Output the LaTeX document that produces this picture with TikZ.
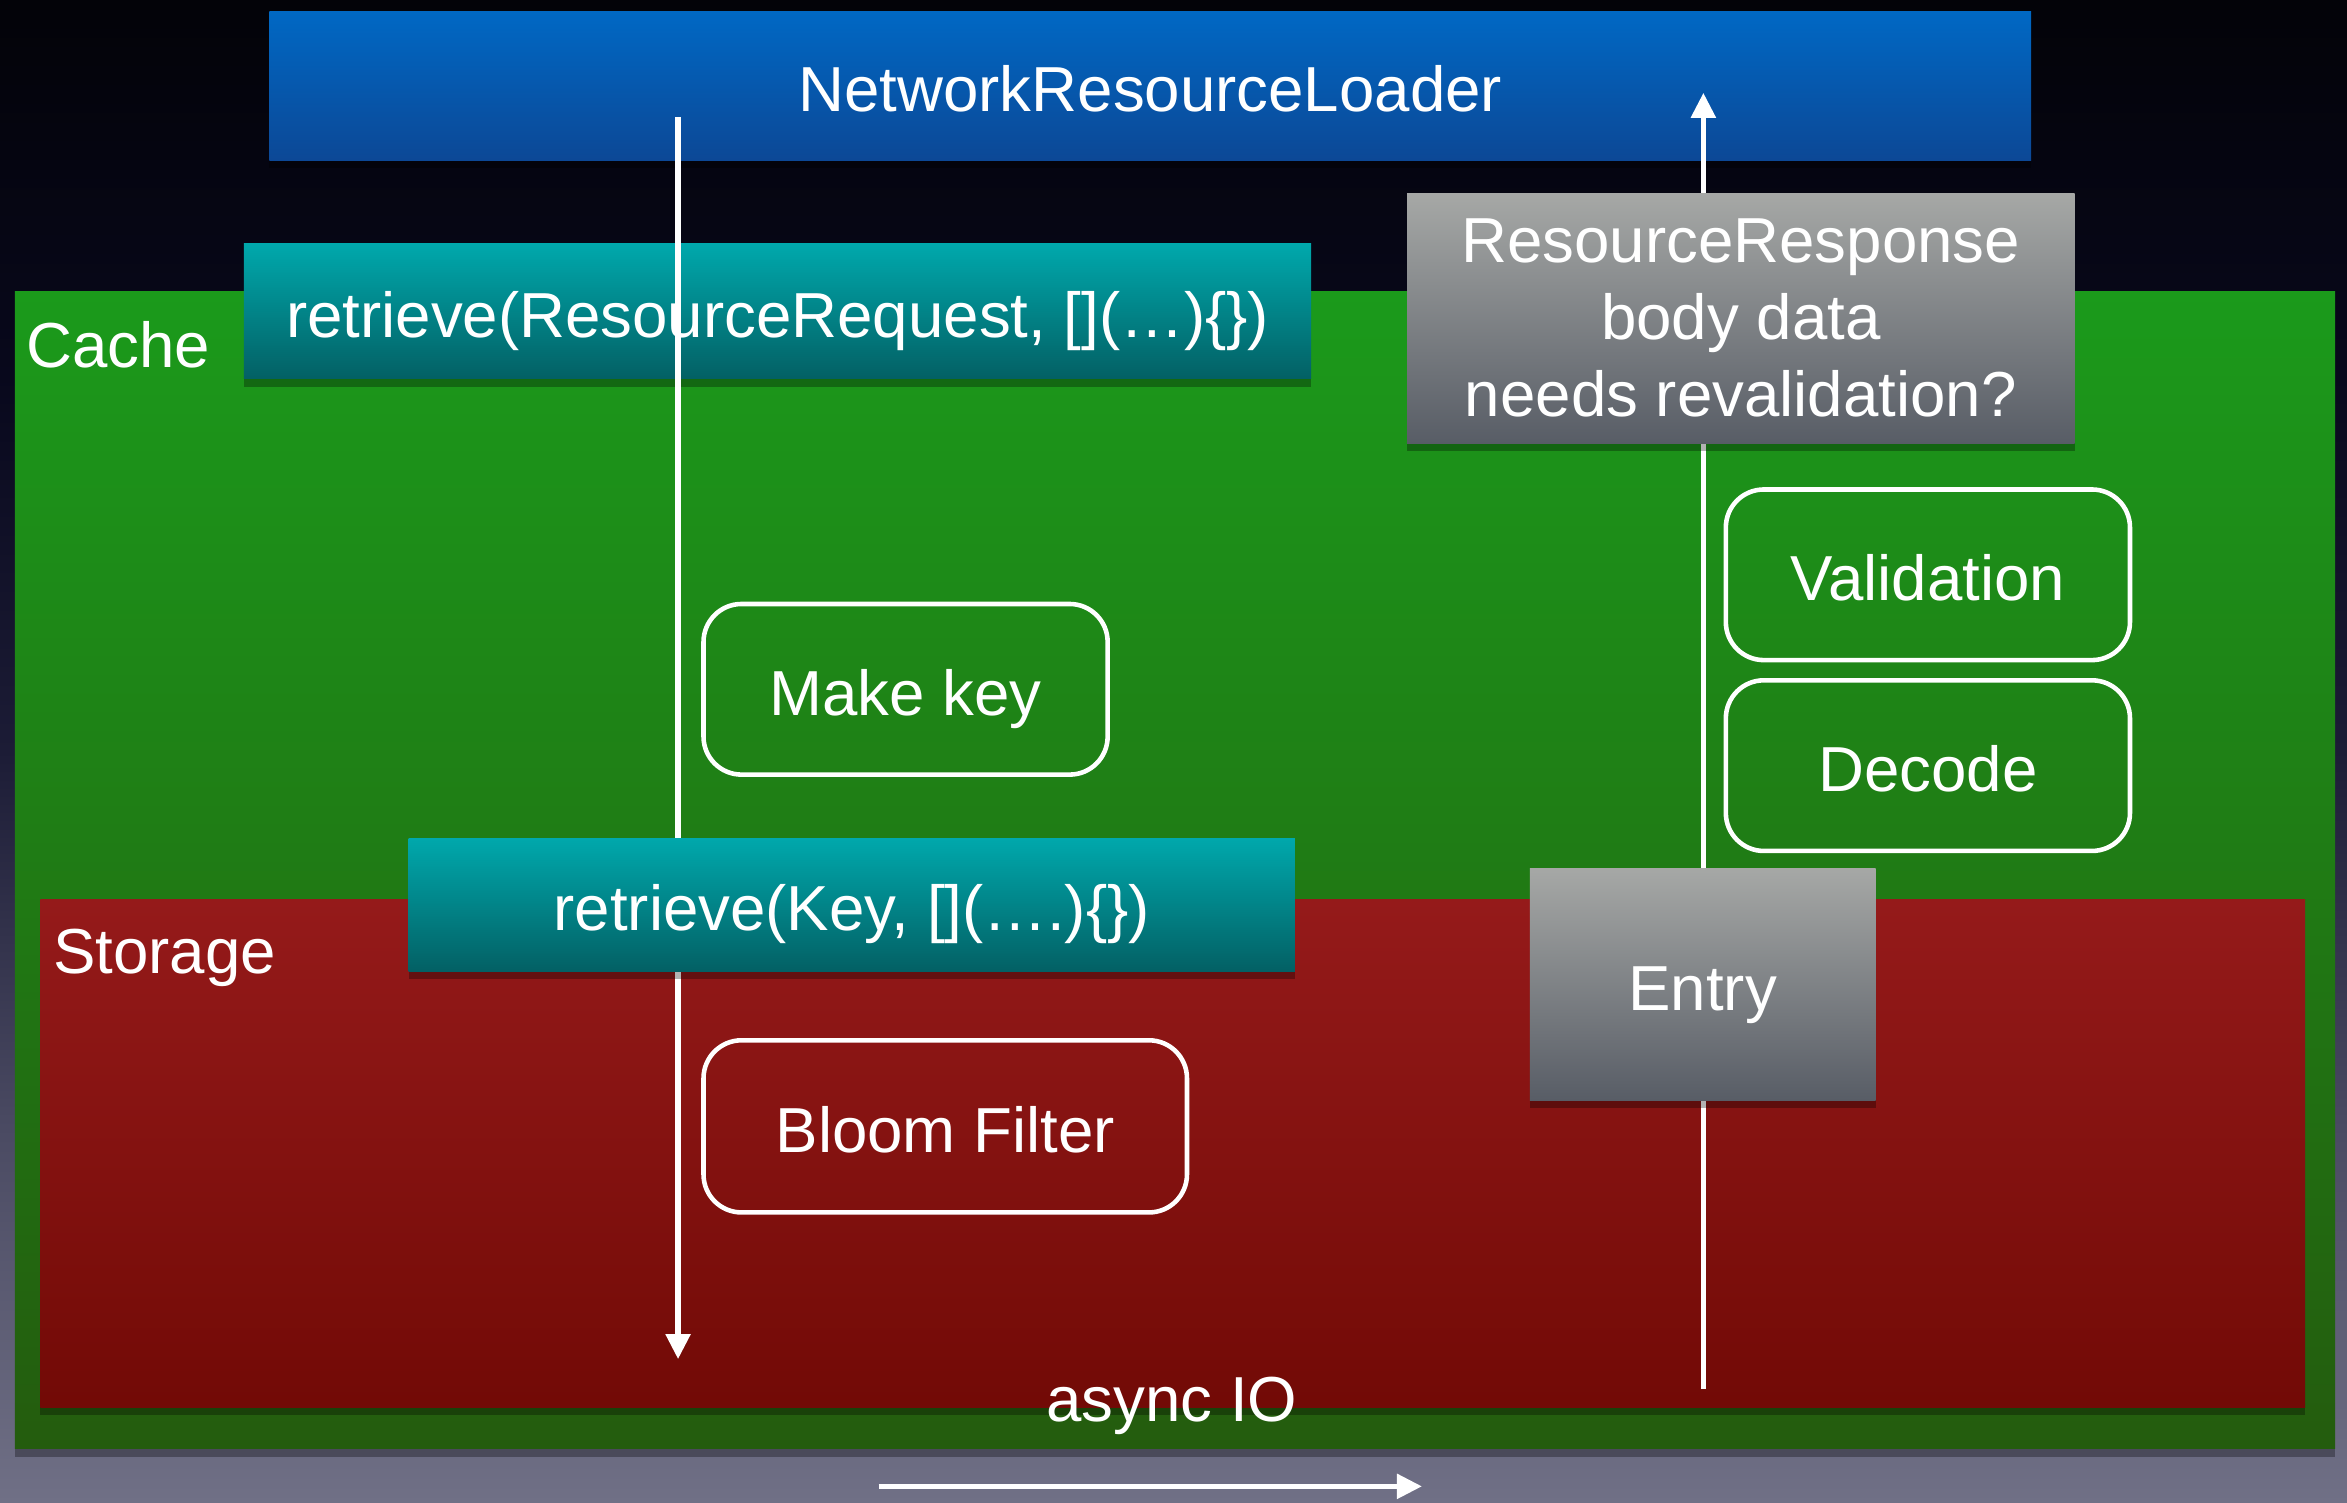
\documentclass[tikz,border=0pt]{standalone}
\usepackage{fontspec}
\setmainfont{Liberation Sans}
\usetikzlibrary{arrows.meta,shadows}

\definecolor{bgbottom}{HTML}{707086}
\definecolor{bglow}{HTML}{4A4A62}
\definecolor{bgmid}{HTML}{1C1C36}
\definecolor{bghigh}{HTML}{08081C}
\definecolor{bgtop}{HTML}{030308}
\definecolor{cachetop}{HTML}{1B9A1B}
\definecolor{cachebot}{HTML}{245C0E}
\definecolor{storetop}{HTML}{951A1A}
\definecolor{storebot}{HTML}{720A06}
\definecolor{loadertop}{HTML}{0068C4}
\definecolor{loaderbot}{HTML}{0C4896}
\definecolor{tealtop}{HTML}{00A8AC}
\definecolor{tealbot}{HTML}{036064}
\definecolor{greytop}{HTML}{A6A8A6}
\definecolor{greybot}{HTML}{585D66}

\pgfdeclareverticalshading{slidebg}{100bp}{color(0bp)=(bgbottom); color(25bp)=(bgbottom);
  color(37.5bp)=(bglow); color(50bp)=(bgmid); color(62.5bp)=(bghigh);
  color(75bp)=(bgtop); color(100bp)=(bgtop)}

\tikzset{
  boxw/.style={minimum width=#1*0.014968cm},
  boxh/.style={minimum height=#1*0.014968cm},
  oneline/.style={text height=18.5pt, text depth=3.8pt},
  layer/.style={inner sep=0pt, align=center, oneline,
    drop shadow={shade=false, fill=black, opacity=0.3, shadow xshift=0pt, shadow yshift=-0.8mm}},
  callbar/.style={layer, top color=tealtop, bottom color=tealbot},
  greybox/.style={layer, top color=greytop, bottom color=greybot},
  stepbox/.style={draw=white, line width=1.3pt, rounded corners=0.38cm, inner sep=0pt,
    oneline, boxw=270, boxh=114},
  flow/.style={draw=white, line width=1.5pt, -{Triangle[length=2.5mm, width=2.4mm]}}
}

\begin{document}
\begin{tikzpicture}[x=0.014968cm, y=-0.014968cm,
    every node/.style={text=white, font=\fontsize{18.1}{22}\selectfont}]
    \useasboundingbox (0,0) rectangle (1568,1004);
    \shade[shading=slidebg] (0,0) rectangle (1568,1004);

    % the two layers
    \node[layer, boxw=1550, boxh=773, top color=cachetop, bottom color=cachebot] (cache) at (785,581.5) {};
    \node[anchor=west, inner sep=0pt] (cachelabel) at (17,230) {Cache};
    \node[layer, boxw=1513, boxh=339, top color=storetop, bottom color=storebot] (storage) at (783.5,770.5) {};
    \node[anchor=west, inner sep=0pt] (storagelabel) at (35,640) {Storage};

    % caller on top
    \node[layer, boxw=1177, boxh=99, top color=loadertop, bottom color=loaderbot] (loader) at (768.5,57.5) {NetworkResourceLoader};
    \node[callbar, boxw=713, boxh=90] (reqcall) at (519.5,208) {retrieve(ResourceRequest, [](…)\{\})};

    % steps inside each layer
    \node[stepbox] (makekey) at (605,460.5) {Make key};
    \node[stepbox] (validation) at (1288,384) {Validation};
    \node[stepbox] (decode) at (1288,511.5) {Decode};
    \node[stepbox, boxw=323, boxh=115] (bloom) at (631.5,752.5) {Bloom Filter};

    % request goes down
    \coordinate (reqstart) at (453,78);
    \coordinate (reqend) at (453,908);
    \draw[flow] (reqstart) -- (reqend);
    \node[callbar, boxw=592, boxh=89] (keycall) at (569,604.5) {retrieve(Key, [](….)\{\})};

    % response comes back up
    \coordinate (respstart) at (1138,928);
    \coordinate (respend) at (1138,62);
    \draw[flow] (respstart) -- (respend);
    \node[greybox, text height=, text depth=, boxw=446, boxh=167] (response) at (1163,212.5) {ResourceResponse\\body data\\needs revalidation?};
    \node[greybox, boxw=231, boxh=155] (entry) at (1137.5,657.5) {Entry};

    % async IO
    \node (asynclabel) at (783,939) {async IO};
    \coordinate (iostart) at (587,993);
    \coordinate (ioend) at (950,993);
    \draw[flow] (iostart) -- (ioend);
\end{tikzpicture}
\end{document}
